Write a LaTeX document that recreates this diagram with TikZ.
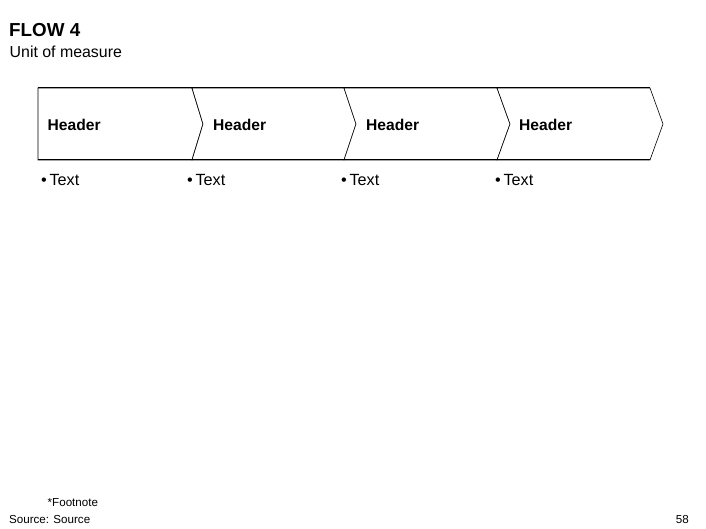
\documentclass[tikz,border=0pt]{standalone}
\usepackage{fontspec}
\setmainfont{Liberation Sans}
\begin{document}
\begin{tikzpicture}[x=1pt,y=-1pt,
  chev/.style={draw=black,line width=0.6pt,fill=white,line join=miter},
  edge/.style={draw=black,line width=1pt},
  hdr/.style={anchor=west,inner sep=0pt,font=\fontsize{15.6}{18}\selectfont\bfseries},
  bul/.style={anchor=west,inner sep=0pt,font=\fontsize{16.2}{18}\selectfont},
  foot/.style={inner sep=0pt,font=\fontsize{11.6}{13}\selectfont}]
\useasboundingbox (0,0) rectangle (706,529);
% title
\node[anchor=west,inner sep=0pt,font=\fontsize{18.8}{21}\selectfont\bfseries] (title) at (9,30) {FLOW 4};
\node[anchor=west,inner sep=0pt,font=\fontsize{15.9}{18}\selectfont] (unit) at (9.5,52) {Unit of measure};
% chevrons
\draw[chev,line width=0.8pt] (38,88) -- (192,88) -- (203,124) -- (192,160) -- (38,160) -- cycle;
\draw[chev] (192,88) -- (344,88) -- (356,124) -- (344,160) -- (192,160) -- (203,124) -- cycle;
\draw[chev] (344,88) -- (497,88) -- (510,124) -- (497,160) -- (344,160) -- (356,124) -- cycle;
\draw[chev] (497,88) -- (650,88) -- (663,124) -- (650,160) -- (497,160) -- (510,124) -- cycle;
\draw[edge] (38,88) -- (650,88);
\draw[edge] (38,160) -- (650,160);
% headers
\node[hdr] (h1) at (47.5,124.5) {Header};
\node[hdr] (h2) at (213,124.5) {Header};
\node[hdr] (h3) at (366,124.5) {Header};
\node[hdr] (h4) at (519,124.5) {Header};
% bullets
\node[bul] (t1) at (41,180.5) {\textbullet\,Text};
\node[bul] (t2) at (187,180.5) {\textbullet\,Text};
\node[bul] (t3) at (341,180.5) {\textbullet\,Text};
\node[bul] (t4) at (495,180.5) {\textbullet\,Text};
% footer
\node[foot,anchor=west] (fn) at (47.5,503) {*Footnote};
\node[foot,anchor=west] (src) at (9,519.5) {Source: Source};
\node[foot,anchor=east] (pg) at (689,519.5) {58};
\end{tikzpicture}
\end{document}
